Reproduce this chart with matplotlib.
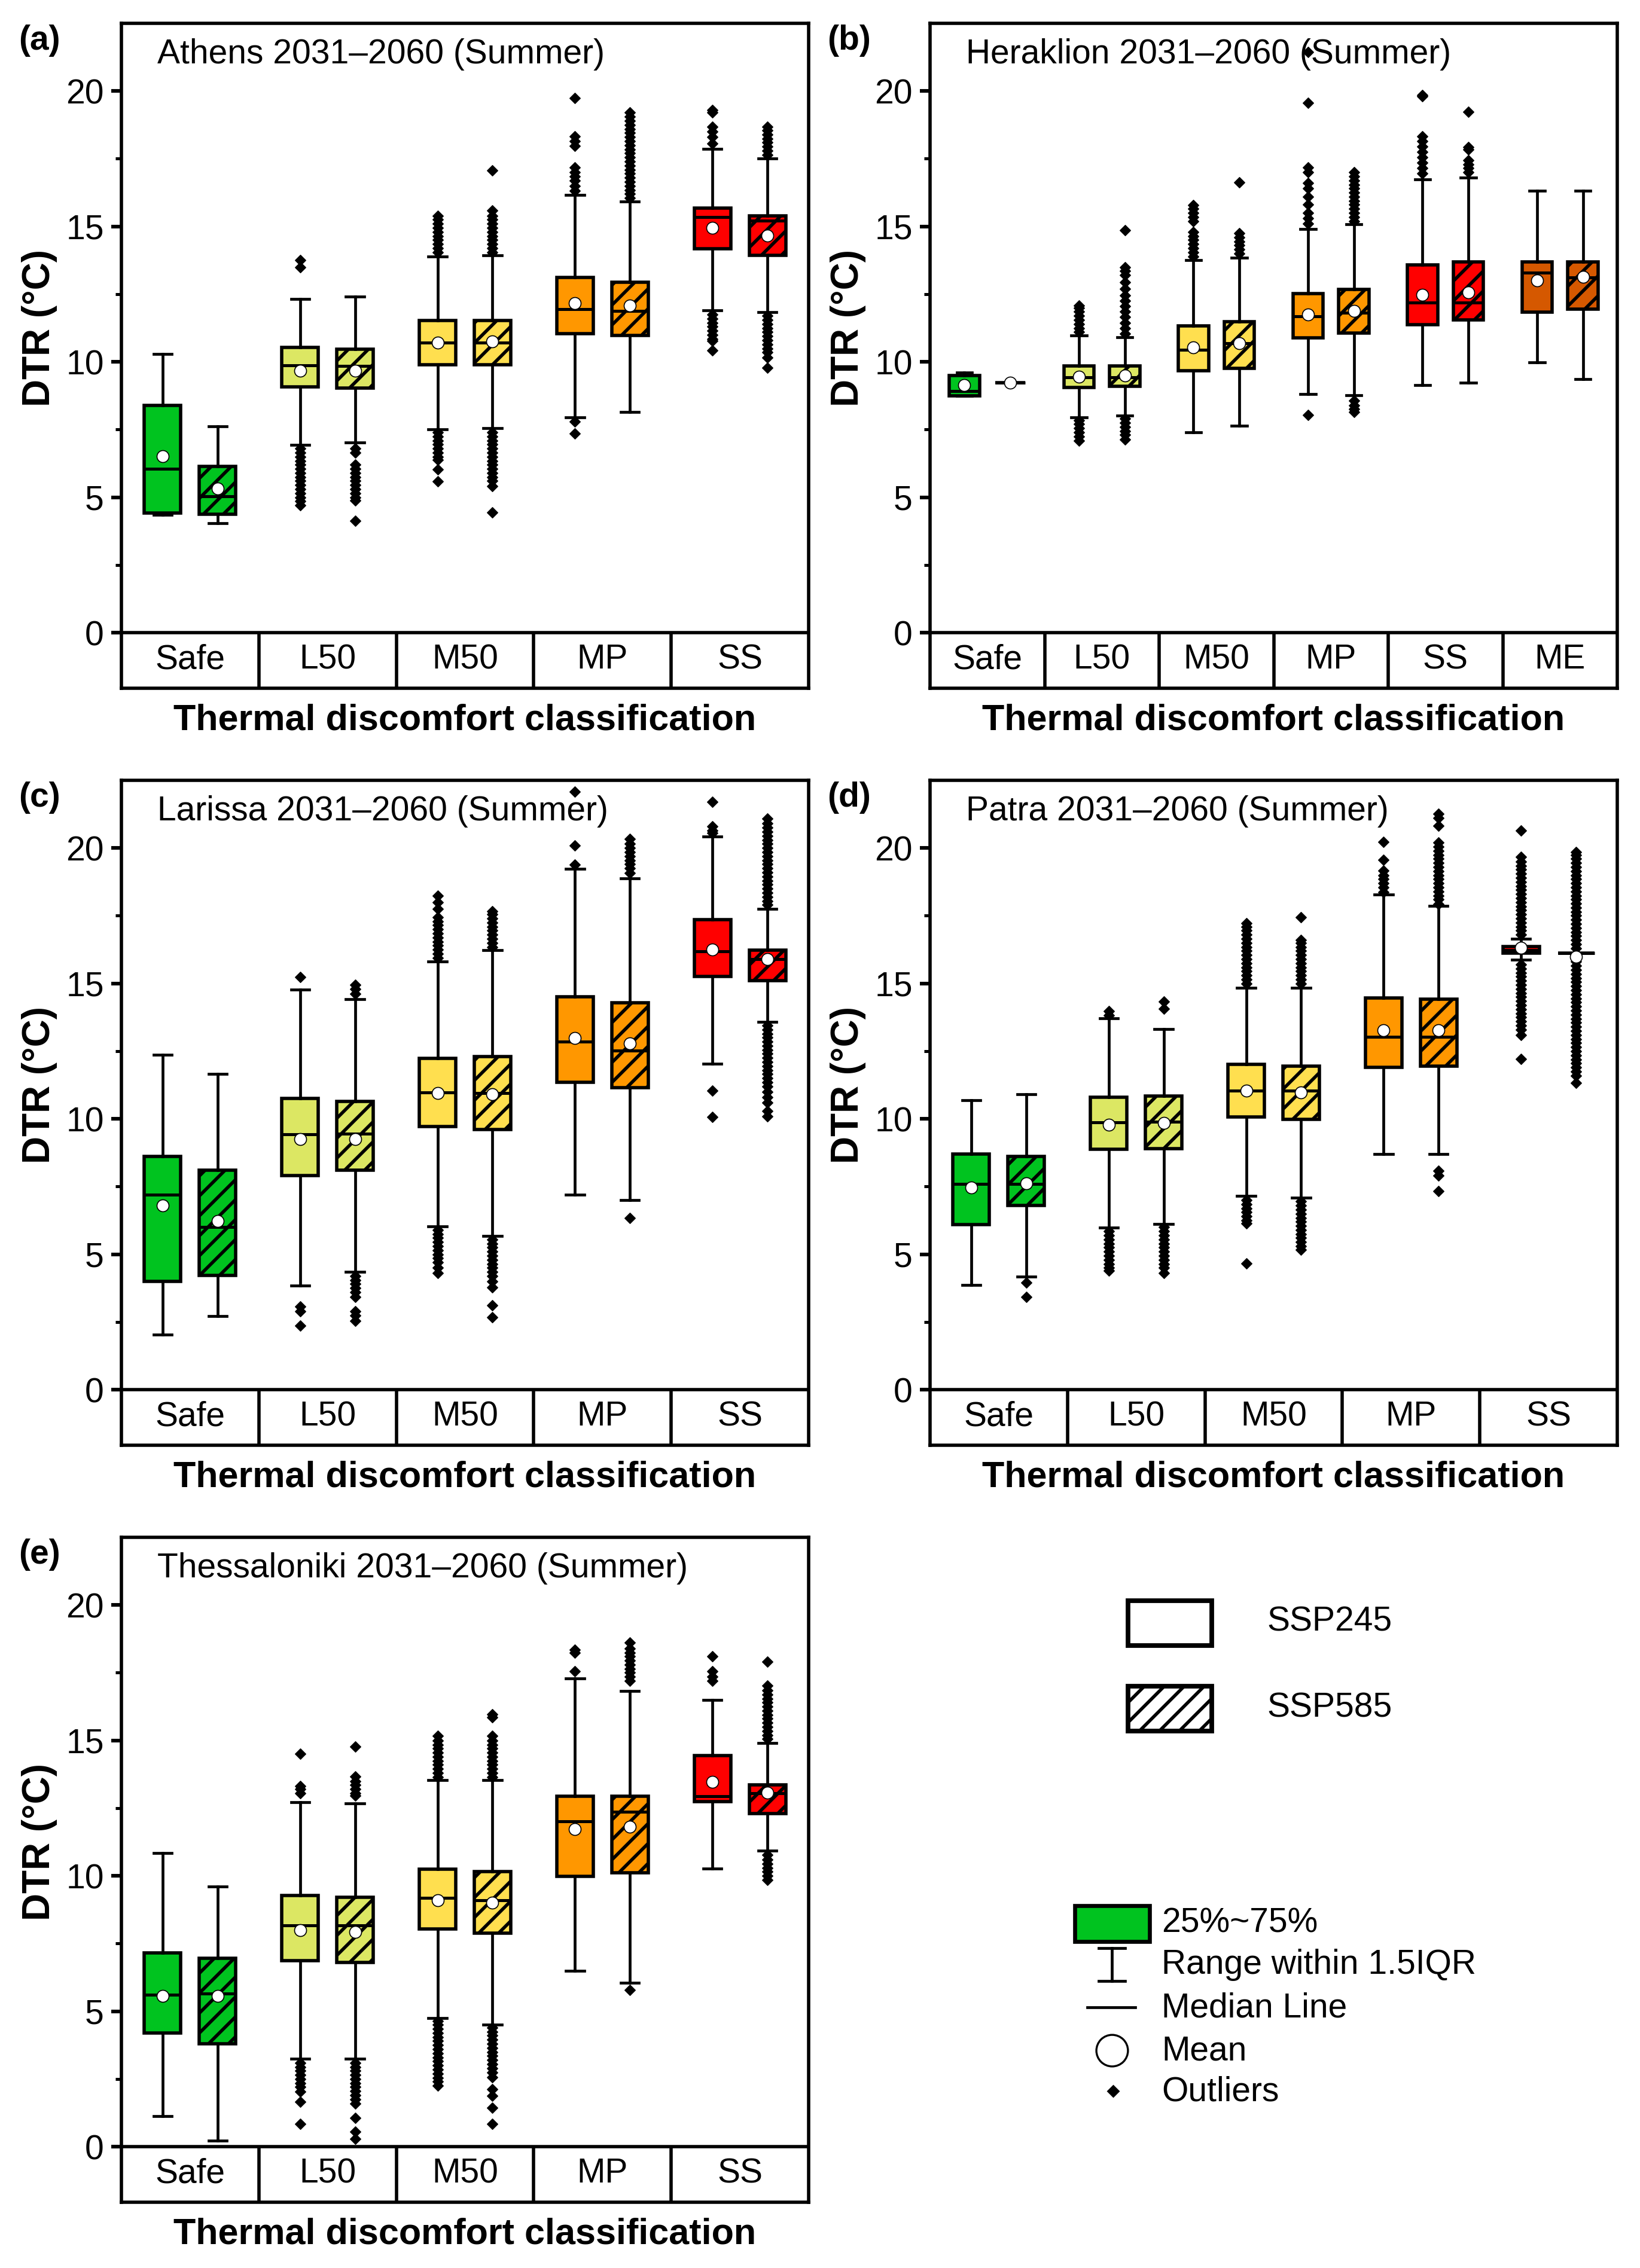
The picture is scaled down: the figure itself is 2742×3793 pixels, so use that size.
import numpy as np
import matplotlib.pyplot as plt
import matplotlib.transforms as mtransforms
from matplotlib.patches import Rectangle

plt.rcParams['font.family'] = ['Liberation Sans', 'DejaVu Sans']
plt.rcParams['hatch.linewidth'] = 2.0

cats5 = ['Safe', 'L50', 'M50', 'MP', 'SS']
cats6 = ['Safe', 'L50', 'M50', 'MP', 'SS', 'ME']
cat_colors = {'Safe': '#00C31F', 'L50': '#DCE763', 'M50': '#FFDF4F',
              'MP': '#FF9700', 'SS': '#FF0000', 'ME': '#D55800'}

# box rows: whislo, q1, median, q3, whishi, mean
athens_245 = [(4.36, 4.41, 6.06, 8.40, 10.30, 6.52),
              (6.94, 9.07, 9.88, 10.54, 12.32, 9.67),
              (7.52, 9.89, 10.72, 11.53, 13.90, 10.72),
              (7.96, 11.04, 11.95, 13.11, 16.17, 12.16),
              (11.90, 14.18, 15.34, 15.68, 17.86, 14.94)]
athens_585 = [(4.04, 4.38, 5.03, 6.15, 7.61, 5.33),
              (7.03, 9.03, 9.84, 10.47, 12.41, 9.67),
              (7.56, 9.89, 10.72, 11.53, 13.94, 10.76),
              (8.15, 10.97, 11.88, 12.95, 15.92, 12.09),
              (11.83, 13.94, 15.22, 15.40, 17.50, 14.66)]
athens_245_out = [[],
                  [13.76, 13.5, 6.8, 6.64, 6.5, 6.35, 6.2, 6.05, 5.9, 5.75, 5.6, 5.45, 5.3, 5.15, 5.0, 4.85, 4.71],
                  [14.05, 14.2, 14.35, 14.5, 14.65, 14.8, 14.95, 15.1, 15.25, 15.4,
                   7.4, 7.25, 7.1, 6.95, 6.8, 6.65, 6.5, 6.38, 6.03, 5.59],
                  [19.74, 18.33, 18.15, 17.98, 17.19, 17.0, 16.85, 16.7, 16.5, 16.31, 7.79, 7.35],
                  [19.3, 19.2, 18.68, 18.5, 18.3, 18.07,
                   11.75, 11.6, 11.45, 11.3, 11.15, 11.0, 10.85, 10.77, 10.42]]
athens_585_out = [[],
                  [6.8, 6.65, 6.2, 6.05, 5.9, 5.75, 5.6, 5.45, 5.3, 5.15, 5.0, 4.89, 4.13],
                  [14.05, 14.2, 14.35, 14.5, 14.65, 14.8, 14.95, 15.1, 15.25, 15.4, 15.6, 17.07,
                   7.4, 7.25, 7.1, 6.95, 6.8, 6.65, 6.5, 6.35, 6.2, 6.05, 5.9, 5.75, 5.6, 5.41, 4.45],
                  [16.05, 16.2, 16.35, 16.5, 16.65, 16.8, 16.95, 17.1, 17.25, 17.4, 17.55,
                   17.7, 17.85, 18.0, 18.15, 18.3, 18.45, 18.6, 18.75, 18.9, 19.05, 19.21],
                  [17.65, 17.8, 17.95, 18.1, 18.25, 18.4, 18.55, 18.68,
                   11.7, 11.55, 11.4, 11.25, 11.1, 10.95, 10.8, 10.65, 10.5, 10.35, 10.16, 9.79]]

heraklion_245 = [(8.75, 8.75, 8.93, 9.49, 9.61, 9.14),
                 (7.96, 9.05, 9.42, 9.84, 10.98, 9.46),
                 (7.40, 9.67, 10.44, 11.32, 13.76, 10.54),
                 (8.82, 10.88, 11.69, 12.53, 14.90, 11.74),
                 (9.14, 11.37, 12.20, 13.57, 16.73, 12.48),
                 (9.98, 11.83, 13.29, 13.69, 16.31, 13.01)]
heraklion_585 = [(9.23, 9.23, 9.23, 9.23, 9.23, 9.23),
                 (8.01, 9.10, 9.42, 9.84, 10.91, 9.49),
                 (7.64, 9.77, 10.69, 11.48, 13.85, 10.69),
                 (8.77, 11.07, 11.81, 12.67, 15.08, 11.88),
                 (9.24, 11.55, 12.20, 13.69, 16.80, 12.57),
                 (9.37, 11.95, 13.11, 13.69, 16.31, 13.15)]
heraklion_245_out = [[],
                     [11.1, 11.25, 11.4, 11.55, 11.7, 11.85, 12.0, 12.09, 7.85, 7.7, 7.55, 7.4, 7.25, 7.08],
                     [13.9, 14.05, 14.2, 14.35, 14.5, 14.65, 14.8, 15.2, 15.35, 15.5, 15.65, 15.78],
                     [21.45, 19.56, 17.19, 17.0, 16.6, 16.4, 16.1, 15.8, 15.5, 15.3, 15.1, 8.05],
                     [19.86, 19.8, 18.33, 18.15, 17.95, 17.75, 17.55, 17.35, 17.15, 16.95],
                     []]
heraklion_585_out = [[],
                     [11.05, 11.25, 11.45, 11.65, 11.85, 12.05, 12.25, 12.45, 12.7, 12.95, 13.2, 13.35, 13.5,
                      14.87, 7.9, 7.75, 7.6, 7.45, 7.3, 7.14],
                     [14.0, 14.15, 14.3, 14.45, 14.6, 14.76, 16.63],
                     [15.2, 15.35, 15.5, 15.65, 15.8, 15.95, 16.1, 16.25, 16.4, 16.55, 16.7, 16.85, 17.0,
                      8.58, 8.4, 8.25, 8.14],
                     [19.23, 17.93, 17.85, 17.45, 17.3, 17.15, 17.0],
                     []]

larissa_245 = [(2.04, 4.01, 7.21, 8.61, 12.37, 6.80),
               (3.85, 7.91, 9.44, 10.76, 14.78, 9.26),
               (6.03, 9.72, 10.98, 12.23, 15.82, 10.95),
               (7.21, 11.34, 12.85, 14.50, 19.24, 12.99),
               (12.04, 15.25, 16.19, 17.35, 20.42, 16.26)]
larissa_585 = [(2.72, 4.22, 6.01, 8.10, 11.65, 6.24),
               (4.36, 8.10, 9.46, 10.65, 14.41, 9.26),
               (5.68, 9.60, 10.95, 12.30, 16.22, 10.91),
               (7.01, 11.16, 12.53, 14.29, 18.89, 12.78),
               (13.59, 15.11, 15.90, 16.22, 17.75, 15.90)]
larissa_245_out = [[],
                   [15.24, 3.08, 2.9, 2.37],
                   [15.95, 16.1, 16.25, 16.4, 16.55, 16.7, 16.85, 17.0, 17.15, 17.3, 17.45, 17.75, 18.0, 18.24,
                    5.9, 5.75, 5.6, 5.45, 5.3, 5.15, 5.0, 4.85, 4.7, 4.5, 4.31],
                   [22.09, 20.09, 19.38],
                   [21.7, 20.8, 20.65, 20.56, 11.05, 10.07]]
larissa_585_out = [[],
                   [14.94, 14.8, 14.62, 4.2, 4.05, 3.9, 3.75, 3.6, 3.43, 2.9, 2.75, 2.55],
                   [16.35, 16.5, 16.65, 16.8, 16.95, 17.1, 17.25, 17.4, 17.55, 17.66,
                    5.55, 5.4, 5.25, 5.1, 4.95, 4.8, 4.65, 4.5, 4.35, 4.2, 4.0, 3.78, 3.11, 2.67],
                   [19.07, 19.25, 19.4, 19.55, 19.7, 19.85, 20.0, 20.15, 20.33, 6.33],
                   [17.9, 18.05, 18.2, 18.35, 18.5, 18.65, 18.8, 18.95, 19.1, 19.25, 19.4, 19.55, 19.7,
                    19.85, 20.0, 20.15, 20.3, 20.45, 20.6, 20.75, 20.9, 21.09,
                    13.45, 13.3, 13.15, 13.0, 12.85, 12.7, 12.55, 12.4, 12.25, 12.1, 11.95, 11.8, 11.65,
                    11.5, 11.35, 11.2, 11.0, 10.8, 10.6, 10.3, 10.1]]

patra_245 = [(3.87, 6.10, 7.59, 8.70, 10.69, 7.47),
             (5.98, 8.88, 9.88, 10.81, 13.71, 9.79),
             (7.15, 10.07, 11.04, 12.02, 14.85, 11.04),
             (8.70, 11.90, 13.02, 14.46, 18.28, 13.27),
             (15.87, 16.12, 16.24, 16.36, 16.64, 16.31)]
patra_585 = [(4.18, 6.80, 7.59, 8.61, 10.91, 7.61),
             (6.12, 8.91, 9.90, 10.84, 13.32, 9.84),
             (7.08, 9.98, 11.04, 11.95, 14.85, 10.98),
             (8.70, 11.95, 13.02, 14.41, 17.87, 13.27),
             (16.13, 16.13, 16.13, 16.13, 16.13, 15.99)]
patra_245_out = [[],
                 [13.97, 13.83, 5.85, 5.7, 5.55, 5.4, 5.25, 5.1, 4.95, 4.8, 4.65, 4.5, 4.39],
                 [15.0, 15.15, 15.3, 15.45, 15.6, 15.75, 15.9, 16.05, 16.2, 16.35, 16.5, 16.65, 16.8,
                  16.95, 17.1, 17.22, 7.0, 6.85, 6.7, 6.55, 6.4, 6.25, 6.15, 4.66],
                 [20.23, 19.56, 19.16, 19.0, 18.85, 18.7, 18.55, 18.37],
                 [16.8, 16.95, 17.1, 17.25, 17.4, 17.55, 17.7, 17.85, 18.0, 18.15, 18.3, 18.45, 18.6,
                  18.75, 18.9, 19.05, 19.2, 19.35, 19.5, 19.68, 20.65,
                  15.7, 15.55, 15.4, 15.25, 15.1, 14.95, 14.8, 14.65, 14.5, 14.35, 14.2, 14.05, 13.9,
                  13.75, 13.6, 13.45, 13.3, 13.09, 12.21]]
patra_585_out = [[3.95, 3.43],
                 [14.34, 14.06, 6.0, 5.85, 5.7, 5.55, 5.4, 5.25, 5.1, 4.95, 4.8, 4.65, 4.5, 4.31],
                 [15.0, 15.15, 15.3, 15.45, 15.6, 15.75, 15.9, 16.05, 16.2, 16.35, 16.5, 16.61, 17.45,
                  6.95, 6.8, 6.65, 6.5, 6.35, 6.2, 6.05, 5.9, 5.75, 5.6, 5.45, 5.3, 5.18],
                 [21.27, 21.1, 20.83, 20.21, 20.05, 19.9, 19.75, 19.6, 19.45, 19.3, 19.15, 19.0, 18.85,
                  18.7, 18.55, 18.4, 18.25, 18.1, 17.93, 8.08, 7.91, 7.33],
                 [16.3, 16.45, 16.6, 16.75, 16.9, 17.05, 17.2, 17.35, 17.5, 17.65, 17.8, 17.95, 18.1,
                  18.25, 18.4, 18.55, 18.7, 18.85, 19.0, 19.15, 19.3, 19.45, 19.6, 19.75, 19.86,
                  15.95, 15.8, 15.65, 15.5, 15.35, 15.2, 15.05, 14.9, 14.75, 14.6, 14.45, 14.3, 14.15,
                  14.0, 13.85, 13.7, 13.55, 13.4, 13.25, 13.1, 12.95, 12.8, 12.65, 12.5, 12.35, 12.2,
                  12.05, 11.9, 11.75, 11.6, 11.33]]

thessaloniki_245 = [(1.13, 4.19, 5.60, 7.15, 10.84, 5.57),
                    (3.24, 6.87, 8.18, 9.27, 12.72, 8.00),
                    (4.76, 8.05, 9.18, 10.24, 13.53, 9.09),
                    (6.50, 9.99, 12.02, 12.95, 17.29, 11.72),
                    (10.27, 12.74, 12.93, 14.45, 16.49, 13.48)]
thessaloniki_585 = [(0.23, 3.81, 5.66, 6.96, 9.60, 5.57),
                    (3.24, 6.80, 8.18, 9.22, 12.67, 7.93),
                    (4.51, 7.89, 9.09, 10.15, 13.53, 9.00),
                    (6.06, 10.11, 12.37, 12.95, 16.83, 11.81),
                    (10.94, 12.30, 13.06, 13.37, 14.91, 13.07)]
thessaloniki_245_out = [[],
                        [14.5, 13.32, 13.2, 13.06, 3.1, 2.95, 2.8, 2.65, 2.5, 2.35, 2.2, 2.04, 1.66, 0.85],
                        [13.65, 13.8, 13.95, 14.1, 14.25, 14.4, 14.55, 14.7, 14.85, 15.0, 15.17,
                         4.65, 4.5, 4.35, 4.2, 4.05, 3.9, 3.75, 3.6, 3.45, 3.3, 3.15, 3.0, 2.85, 2.7,
                         2.55, 2.4, 2.26],
                        [18.34, 18.25, 17.55],
                        [18.11, 17.55, 17.35, 17.2]]
thessaloniki_585_out = [[],
                        [14.77, 13.67, 13.5, 13.35, 13.2, 13.05, 12.97,
                         3.1, 2.95, 2.8, 2.65, 2.5, 2.35, 2.2, 2.05, 1.9, 1.75, 1.6, 1.07, 0.55, 0.28],
                        [13.65, 13.8, 13.95, 14.1, 14.25, 14.4, 14.55, 14.7, 14.85, 15.0, 15.17, 15.85, 15.96,
                         4.4, 4.25, 4.1, 3.95, 3.8, 3.65, 3.5, 3.35, 3.2, 3.05, 2.9, 2.75, 2.57, 2.13,
                         1.87, 1.43, 0.85],
                        [17.2, 17.35, 17.5, 17.65, 17.8, 17.95, 18.1, 18.25, 18.4, 18.61, 5.78],
                        [17.9, 17.02, 16.85, 16.7, 16.55, 16.4, 16.25, 16.1, 15.95, 15.8, 15.65, 15.5,
                         15.35, 15.2, 15.05, 10.77, 10.6, 10.45, 10.3, 10.15, 10.0, 9.85]]

W, H = 2742, 3793
fig = plt.figure(figsize=(W / 200, H / 200), dpi=200)


def make_stats(rows, outs):
    return [dict(whislo=r[0], q1=r[1], med=r[2], q3=r[3], whishi=r[4], mean=r[5],
                 fliers=np.array(o)) for r, o in zip(rows, outs)]


def draw_panel(pos, cats, s245, o245, s585, o585, title, label):
    ax = fig.add_axes(pos)
    n = len(cats)
    lw = 2.0
    common = dict(widths=0.265, patch_artist=True, showmeans=True, manage_ticks=False,
                  boxprops=dict(linewidth=2.0, edgecolor='black'),
                  whiskerprops=dict(linewidth=1.7, color='black'),
                  capprops=dict(linewidth=1.7, color='black'),
                  medianprops=dict(linewidth=1.8, color='black'),
                  meanprops=dict(marker='o', markerfacecolor='white', markeredgecolor='black',
                                 markeredgewidth=0.6, markersize=7.2),
                  flierprops=dict(marker='D', markerfacecolor='black', markeredgecolor='black',
                                  markeredgewidth=0.4, markersize=4.8))
    for stats, outs, off, hatch in [(s245, o245, 0.3, None), (s585, o585, 0.7, '//')]:
        res = ax.bxp(make_stats(stats, outs), positions=np.arange(n) + off, **common)
        for box, c in zip(res['boxes'], cats):
            box.set_facecolor(cat_colors[c])
            if hatch:
                box.set_hatch(hatch)

    ax.set_xlim(0, n)
    ax.set_ylim(-2.05, 22.5)
    ax.axhline(0, color='black', lw=lw)
    ax.vlines(np.arange(1, n), -2.05, 0, color='black', lw=lw)
    for i, c in enumerate(cats):
        ax.text(i + 0.5, -1.0, c, ha='center', va='center', fontsize=20.5)
    ax.set_xticks([])
    ax.set_yticks([0, 5, 10, 15, 20])
    ax.set_yticks([2.5, 7.5, 12.5, 17.5], minor=True)
    ax.tick_params(axis='y', which='major', length=6, width=2.2, pad=4.5, labelsize=20.5)
    ax.tick_params(axis='y', which='minor', length=3.5, width=1.8)
    for sp in ax.spines.values():
        sp.set_linewidth(lw)

    trans = mtransforms.blended_transform_factory(ax.transAxes, ax.transData)
    ax.text(-0.119, 11.25, 'DTR (°C)', transform=trans, rotation=90, ha='center',
            va='center', fontsize=23, fontweight='bold')
    ax.text(0.5, -0.0486, 'Thermal discomfort classification', transform=ax.transAxes,
            ha='center', va='center', fontsize=22, fontweight='bold')
    ax.text(0.052, 0.9397, title, transform=ax.transAxes, ha='left', va='baseline', fontsize=20.5)
    ax.text(-0.150, 0.974, label, transform=ax.transAxes, ha='left', va='center',
            fontsize=20.5, fontweight='bold')
    return ax


left_a, left_b, width = 203 / W, 1555 / W, 1149 / W
height = 1112 / H
bottoms = [1 - 1151 / H, 1 - 2417 / H, 1 - 3683 / H]

draw_panel([left_a, bottoms[0], width, height], cats5, athens_245, athens_245_out,
           athens_585, athens_585_out, 'Athens 2031\u20132060 (Summer)', '(a)')
draw_panel([left_b, bottoms[0], width, height], cats6, heraklion_245, heraklion_245_out,
           heraklion_585, heraklion_585_out, 'Heraklion 2031\u20132060 (Summer)', '(b)')
draw_panel([left_a, bottoms[1], width, height], cats5, larissa_245, larissa_245_out,
           larissa_585, larissa_585_out, 'Larissa 2031\u20132060 (Summer)', '(c)')
draw_panel([left_b, bottoms[1], width, height], cats5, patra_245, patra_245_out,
           patra_585, patra_585_out, 'Patra 2031\u20132060 (Summer)', '(d)')
draw_panel([left_a, bottoms[2], width, height], cats5, thessaloniki_245, thessaloniki_245_out,
           thessaloniki_585, thessaloniki_585_out, 'Thessaloniki 2031\u20132060 (Summer)', '(e)')

# legend drawn in figure pixel coordinates
leg = fig.add_axes([0, 0, 1, 1])
leg.set_xlim(0, W)
leg.set_ylim(H, 0)
leg.axis('off')
leg.add_patch(Rectangle((1886, 2677), 140, 75, facecolor='white', edgecolor='black', lw=2.8))
leg.add_patch(Rectangle((1886, 2820), 140, 75, facecolor='white', edgecolor='black', lw=2.8, hatch='//'))
leg.text(2118, 2712, 'SSP245', fontsize=20.5, va='center')
leg.text(2118, 2857, 'SSP585', fontsize=20.5, va='center')

leg.add_patch(Rectangle((1797, 3187), 125, 60, facecolor=cat_colors['Safe'], edgecolor='black', lw=2.4))
leg.plot([1859, 1859], [3258, 3313], color='black', lw=1.7)
leg.plot([1837, 1881], [3258, 3258], color='black', lw=1.7)
leg.plot([1837, 1881], [3313, 3313], color='black', lw=1.7)
leg.plot([1818, 1898], [3357, 3357], color='black', lw=1.7)
leg.plot([1859], [3429], marker='o', markersize=19, markerfacecolor='white',
         markeredgecolor='black', markeredgewidth=1.2)
leg.plot([1861], [3497], marker='D', markersize=4.8, color='black')
for y, t in [(3216, '25%~75%'), (3286, 'Range within 1.5IQR'), (3359, 'Median Line'),
             (3431, 'Mean'), (3499, 'Outliers')]:
    leg.text(1942, y, t, fontsize=20.5, va='center')

fig.savefig('out.png', dpi=200)
